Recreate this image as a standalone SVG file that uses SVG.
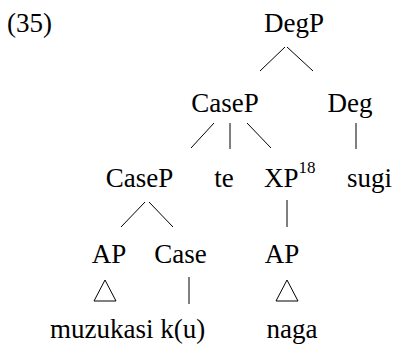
<svg xmlns="http://www.w3.org/2000/svg" width="395" height="347" viewBox="0 0 395 347" font-family="'Liberation Serif', 'Times New Roman', Times, serif" font-size="27">
  <style>
    text { font-family: 'Liberation Serif', 'Times New Roman', Times, serif; font-size: 27px; fill: #000; }
    .c { text-anchor: middle; }
    .sup { font-size: 17px; }
    .edge { stroke: #000; stroke-width: 1; fill: none; }
  </style>
  <rect width="395" height="347" fill="#fff"/>
  <text x="7" y="32">(35)</text>

  <g id="edges">
    <line class="edge" x1="285" y1="47" x2="260" y2="71"/>
    <line class="edge" x1="287" y1="47" x2="313" y2="71"/>
    <line class="edge" x1="214" y1="123" x2="191" y2="148"/>
    <line class="edge" x1="230" y1="123" x2="230" y2="149"/>
    <line class="edge" x1="247" y1="123" x2="271" y2="148"/>
    <line class="edge" x1="356" y1="123" x2="356" y2="149"/>
    <line class="edge" x1="145" y1="202" x2="121" y2="227"/>
    <line class="edge" x1="149" y1="202" x2="173" y2="227"/>
    <line class="edge" x1="287" y1="200" x2="287" y2="227"/>
    <line class="edge" x1="189" y1="277" x2="189" y2="304"/>
    <polygon class="edge" points="105,280 94,301 116,301"/>
    <polygon class="edge" points="287,280 276,301 298,301"/>
  </g>

  <g id="n-degp"><text class="c" x="294" y="32">DegP</text></g>
  <g id="n-casep1"><text class="c" x="225" y="112">CaseP</text></g>
  <g id="n-deg"><text class="c" x="350" y="112">Deg</text></g>
  <g id="n-casep2"><text class="c" x="139.5" y="187">CaseP</text></g>
  <g id="n-te"><text class="c" x="224" y="187">te</text></g>
  <g id="n-xp"><text x="264" y="187">XP<tspan class="sup" dy="-14">18</tspan></text></g>
  <g id="n-sugi"><text class="c" x="369.5" y="187">sugi</text></g>
  <g id="n-ap1"><text class="c" x="109" y="263">AP</text></g>
  <g id="n-case"><text class="c" x="180.5" y="263">Case</text></g>
  <g id="n-ap2"><text class="c" x="282" y="263">AP</text></g>
  <g id="n-muzukasi"><text x="50" y="338">muzukasi k(u)</text></g>
  <g id="n-naga"><text class="c" x="292" y="338">naga</text></g>
</svg>
